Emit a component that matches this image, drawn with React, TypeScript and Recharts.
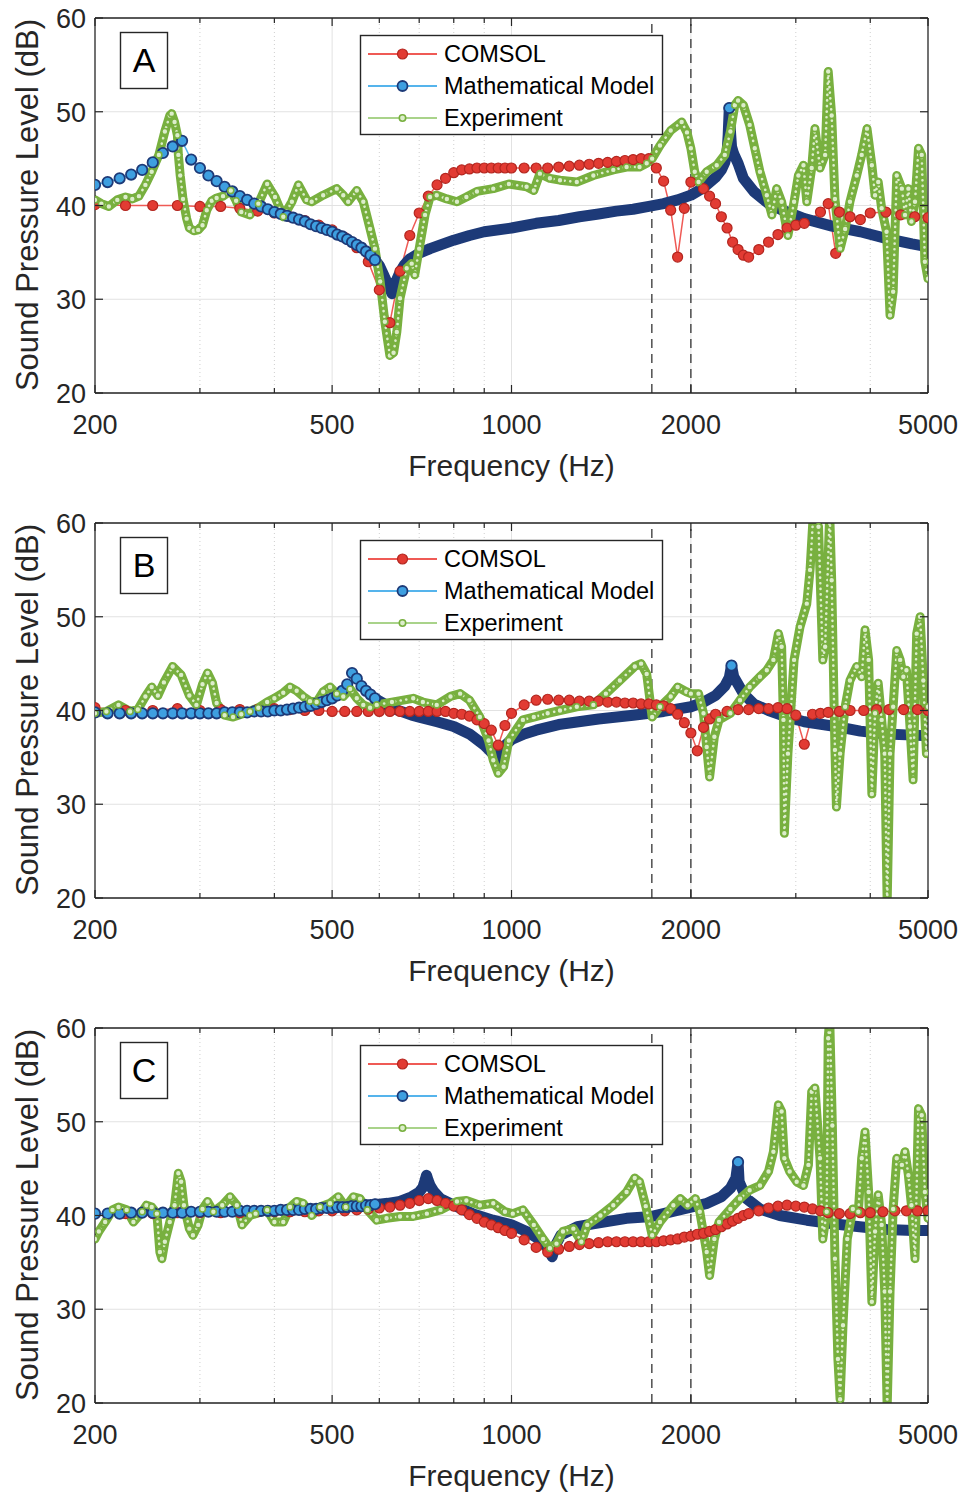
import React from "react";
import { LineChart, Line, XAxis, YAxis, CartesianGrid, ReferenceLine } from "recharts";

type Pt = [number, number];

// ---- data: [frequency Hz, sound pressure level dB] ----
const A_COMSOL: Pt[] = [
  [200, 40.1], [225, 40.0], [250, 40.0], [275, 40.0], [300, 39.9], [325, 39.9], [350, 39.7], [375, 39.4],
  [400, 39.2], [425, 38.8], [450, 38.4], [475, 37.9], [500, 37.4], [525, 36.6], [550, 35.5], [575, 34.0],
  [600, 31.0], [625, 27.5], [650, 33.0], [675, 36.8], [700, 39.2], [725, 41.0], [750, 42.2], [775, 42.9],
  [800, 43.5], [825, 43.8], [850, 43.9], [875, 44.0], [900, 44.0], [925, 44.0], [950, 44.0], [975, 44.0],
  [1000, 44.0], [1050, 44.0], [1100, 44.0], [1150, 44.0], [1200, 44.1], [1250, 44.2], [1300, 44.3],
  [1350, 44.4], [1400, 44.5], [1450, 44.6], [1500, 44.7], [1550, 44.8], [1600, 44.9], [1650, 45.0],
  [1700, 45.0], [1750, 44.0], [1800, 42.6], [1850, 39.5], [1900, 34.5], [1950, 39.7], [2000, 42.5],
  [2100, 41.8], [2150, 41.0], [2200, 40.2], [2250, 38.8], [2300, 37.6], [2350, 36.1], [2400, 35.3],
  [2450, 34.7], [2500, 34.5], [2600, 35.3], [2700, 36.1], [2800, 36.9], [2900, 37.6], [3000, 37.9],
  [3100, 38.1], [3300, 39.3], [3400, 40.2], [3500, 34.9], [3550, 39.3], [3700, 38.8], [3850, 38.5],
  [4000, 39.2], [4250, 39.3], [4500, 39.0], [4750, 38.8], [5000, 38.7],
];

const A_MODEL: Pt[] = [
  [200, 42.2], [210, 42.5], [220, 42.9], [230, 43.3], [240, 43.8], [250, 44.6], [260, 45.6], [270, 46.3],
  [280, 46.9], [290, 44.9], [300, 44.0], [310, 43.2], [320, 42.6], [330, 42.0], [340, 41.5], [350, 41.0],
  [360, 40.6], [370, 40.2], [380, 39.9], [390, 39.6], [400, 39.3], [410, 39.1], [420, 38.9], [430, 38.7],
  [440, 38.5], [450, 38.3], [460, 38.0], [470, 37.8], [480, 37.6], [490, 37.4], [500, 37.2], [510, 36.9],
  [520, 36.7], [530, 36.4], [540, 36.1], [550, 35.8], [560, 35.5], [570, 35.1], [580, 34.7], [590, 34.2],
  [600, 33.6], [610, 32.6], [620, 31.6], [630, 30.6], [640, 31.9], [650, 32.9], [660, 33.6], [675, 34.3],
  [700, 34.9], [730, 35.4], [760, 35.8], [800, 36.3], [850, 36.8], [900, 37.2], [1000, 37.6], [1100, 38.1],
  [1200, 38.4], [1300, 38.8], [1400, 39.1], [1500, 39.4], [1600, 39.6], [1700, 39.9], [1800, 40.2],
  [1900, 40.6], [2000, 41.1], [2100, 41.9], [2200, 43.0], [2250, 43.8], [2280, 44.6], [2300, 45.6],
  [2310, 47.5], [2320, 50.4], [2330, 48.0], [2340, 46.3], [2360, 45.5], [2400, 44.5], [2450, 42.9],
  [2550, 41.5], [2700, 40.2], [2850, 39.5], [3100, 38.6], [3450, 37.8], [3850, 37.2], [4250, 36.5],
  [4700, 35.9], [5000, 35.6],
];

const A_EXPERIMENT: Pt[] = [
  [200, 40.6], [205, 40.2], [211, 39.9], [218, 40.6], [225, 40.9], [231, 40.7], [237, 41.0], [243, 42.2],
  [249, 43.6], [256, 45.4], [262, 47.9], [267, 49.6], [269, 49.8], [272, 48.9], [275, 47.5], [276, 45.4],
  [278, 43.2], [281, 40.7], [285, 38.6], [288, 37.6], [293, 37.3], [298, 37.4], [303, 37.9], [308, 39.5],
  [314, 40.5], [320, 40.8], [328, 41.0], [338, 41.6], [345, 40.5], [352, 39.3], [364, 39.0], [376, 40.2],
  [389, 42.3], [401, 40.9], [414, 38.8], [428, 40.4], [439, 42.2], [453, 40.6], [462, 40.4], [483, 41.1],
  [509, 41.8], [522, 41.1], [532, 40.4], [550, 41.6], [564, 40.4], [579, 37.5], [590, 35.4], [602, 31.9],
  [613, 27.6], [625, 24.0], [634, 24.3], [642, 26.5], [650, 30.1], [667, 33.3], [680, 33.8], [688, 32.6],
  [700, 35.4], [716, 39.0], [730, 40.9], [749, 41.1], [779, 40.7], [810, 40.4], [840, 40.9], [875, 41.5],
  [932, 41.8], [990, 42.3], [1060, 42.0], [1090, 41.6], [1116, 43.4], [1160, 42.9], [1206, 42.7],
  [1287, 42.5], [1372, 43.2], [1482, 43.8], [1560, 44.1], [1640, 44.1], [1686, 44.5], [1722, 45.0],
  [1775, 46.4], [1850, 48.0], [1930, 48.9], [1970, 47.8], [2000, 46.1], [2030, 43.6], [2060, 42.5],
  [2126, 43.6], [2210, 44.3], [2280, 45.4], [2330, 47.9], [2370, 50.7], [2400, 51.2], [2450, 50.7],
  [2510, 48.6], [2560, 46.1], [2612, 43.6], [2682, 41.1], [2735, 39.0], [2786, 41.8], [2840, 40.4],
  [2910, 36.8], [2980, 40.4], [3030, 43.2], [3090, 44.3], [3130, 40.4], [3190, 44.0], [3230, 48.2],
  [3294, 44.0], [3360, 45.4], [3400, 54.3], [3446, 49.6], [3490, 40.7], [3560, 35.4], [3630, 37.5],
  [3698, 40.4], [3796, 43.2], [3870, 45.4], [3950, 48.2], [4025, 44.3], [4075, 41.1], [4125, 42.5],
  [4180, 39.7], [4260, 37.2], [4318, 28.3], [4370, 30.8], [4431, 43.2], [4520, 41.8], [4575, 39.0],
  [4635, 41.8], [4690, 38.3], [4755, 40.4], [4820, 46.1], [4880, 45.4], [4940, 34.0], [5000, 32.2],
];

const B_COMSOL: Pt[] = [
  [200, 40.3], [225, 40.0], [250, 40.0], [275, 40.2], [300, 40.0], [325, 40.1], [350, 40.1], [375, 40.1],
  [400, 40.2], [425, 40.1], [450, 40.0], [475, 40.0], [500, 39.9], [525, 39.9], [550, 39.9], [575, 39.9],
  [600, 39.9], [625, 39.9], [650, 39.9], [675, 39.9], [700, 39.9], [725, 39.9], [750, 39.9], [775, 39.9],
  [800, 39.7], [825, 39.6], [850, 39.4], [875, 39.0], [900, 38.6], [925, 37.9], [950, 36.3], [975, 38.4],
  [1000, 39.7], [1050, 40.6], [1100, 41.1], [1150, 41.2], [1200, 41.1], [1250, 41.1], [1300, 41.0],
  [1350, 41.0], [1400, 41.0], [1450, 40.9], [1500, 40.9], [1550, 40.8], [1600, 40.8], [1650, 40.7],
  [1700, 40.7], [1750, 40.6], [1800, 40.5], [1850, 40.2], [1900, 39.6], [1950, 38.7], [2000, 37.6],
  [2050, 35.7], [2100, 38.2], [2150, 39.1], [2200, 39.6], [2300, 39.9], [2400, 40.1], [2500, 40.1],
  [2600, 40.2], [2700, 40.2], [2800, 40.3], [2900, 40.2], [3000, 39.5], [3100, 36.4], [3200, 39.6],
  [3300, 39.7], [3400, 39.8], [3550, 39.9], [3700, 40.0], [3900, 40.0], [4100, 40.1], [4300, 40.1],
  [4550, 40.1], [4800, 40.1], [5000, 40.0],
];

const B_MODEL: Pt[] = [
  [200, 39.8], [210, 39.7], [220, 39.7], [230, 39.7], [240, 39.7], [250, 39.7], [260, 39.7], [270, 39.7],
  [280, 39.7], [290, 39.7], [300, 39.7], [310, 39.7], [320, 39.7], [330, 39.8], [340, 39.8], [350, 39.8],
  [360, 39.8], [370, 39.9], [380, 39.9], [390, 39.9], [400, 40.0], [410, 40.0], [420, 40.1], [430, 40.2],
  [440, 40.3], [450, 40.4], [460, 40.5], [470, 40.7], [480, 40.9], [490, 41.1], [500, 41.3], [510, 41.6],
  [520, 42.1], [530, 42.8], [540, 44.0], [550, 43.4], [560, 42.6], [570, 42.1], [580, 41.7], [590, 41.3],
  [600, 41.0], [620, 40.5], [640, 40.1], [660, 39.8], [680, 39.5], [700, 39.3], [750, 38.8], [800, 38.3],
  [850, 37.5], [900, 36.3], [930, 35.4], [950, 34.8], [960, 35.5], [980, 36.4], [1000, 36.9], [1050, 37.5],
  [1100, 37.9], [1200, 38.5], [1400, 39.1], [1600, 39.5], [1800, 39.9], [2000, 40.4], [2100, 40.9],
  [2200, 41.6], [2280, 42.6], [2320, 43.5], [2340, 44.8], [2360, 43.6], [2400, 42.8], [2450, 41.8],
  [2550, 40.7], [2700, 40.0], [2900, 39.3], [3100, 38.8], [3500, 38.3], [3850, 37.8], [4250, 37.5],
  [4600, 37.4], [5000, 37.3],
];

const B_EXPERIMENT: Pt[] = [
  [200, 39.7], [209, 39.9], [219, 40.6], [229, 39.9], [236, 40.1], [243, 41.5], [249, 42.5], [255, 41.6],
  [261, 43.0], [270, 44.7], [279, 43.8], [288, 41.6], [296, 40.6], [303, 42.8], [309, 44.0], [315, 42.9],
  [320, 40.8], [330, 39.5], [341, 39.3], [352, 39.6], [364, 39.9], [376, 40.3], [389, 40.9], [400, 41.3],
  [414, 41.9], [425, 42.5], [436, 42.1], [447, 41.5], [459, 41.0], [471, 40.9], [483, 42.0], [496, 42.5],
  [509, 41.8], [522, 41.5], [536, 42.3], [550, 41.3], [564, 40.6], [579, 40.3], [594, 40.6], [630, 40.9],
  [684, 41.3], [710, 40.9], [749, 40.6], [790, 41.5], [820, 41.8], [850, 41.1], [885, 39.3], [915, 36.8],
  [932, 34.7], [950, 33.3], [970, 34.0], [990, 36.8], [1045, 39.0], [1090, 39.3], [1150, 39.7],
  [1206, 40.0], [1287, 40.4], [1372, 40.6], [1440, 41.8], [1520, 43.2], [1610, 44.7], [1650, 45.0],
  [1686, 43.9], [1722, 39.3], [1775, 40.4], [1850, 41.5], [1900, 42.5], [1965, 42.0], [2000, 41.8],
  [2060, 41.8], [2100, 39.7], [2126, 36.1], [2150, 32.9], [2190, 37.2], [2230, 39.0], [2330, 39.7],
  [2418, 41.1], [2510, 42.5], [2612, 43.6], [2682, 44.3], [2751, 45.4], [2805, 48.2], [2840, 46.8],
  [2860, 39.0], [2870, 26.9], [2910, 35.4], [2980, 45.4], [3049, 48.9], [3130, 51.4], [3170, 55.0],
  [3210, 61.0], [3275, 59.6], [3330, 45.4], [3360, 46.8], [3420, 61.0], [3446, 53.9], [3490, 35.8],
  [3510, 29.7], [3560, 35.4], [3630, 40.4], [3698, 43.2], [3796, 44.7], [3870, 43.6], [3920, 48.6],
  [3975, 45.4], [4025, 31.1], [4075, 39.7], [4125, 42.9], [4180, 39.0], [4230, 35.4], [4270, 19.5],
  [4318, 35.4], [4370, 40.4], [4431, 46.4], [4490, 45.4], [4546, 43.6], [4600, 44.3], [4664, 38.3],
  [4720, 32.6], [4786, 48.2], [4850, 50.0], [4910, 43.2], [4970, 35.4], [5000, 40.4],
];

const C_COMSOL: Pt[] = [
  [200, 40.2], [225, 40.2], [250, 40.2], [275, 40.3], [300, 40.3], [325, 40.3], [350, 40.3], [375, 40.4],
  [400, 40.4], [425, 40.4], [450, 40.4], [475, 40.5], [500, 40.5], [525, 40.5], [550, 40.6], [575, 40.7],
  [600, 40.8], [625, 40.9], [650, 41.1], [675, 41.3], [700, 41.6], [725, 41.8], [750, 41.6], [775, 41.3],
  [800, 41.0], [825, 40.6], [850, 40.1], [875, 39.7], [900, 39.3], [925, 39.0], [950, 38.7], [975, 38.4],
  [1000, 38.1], [1050, 37.4], [1100, 36.6], [1150, 36.1], [1200, 36.4], [1250, 36.7], [1300, 36.9],
  [1350, 37.0], [1400, 37.1], [1450, 37.2], [1500, 37.2], [1550, 37.2], [1600, 37.2], [1650, 37.2],
  [1700, 37.2], [1750, 37.2], [1800, 37.3], [1850, 37.4], [1900, 37.5], [1950, 37.7], [2000, 37.8],
  [2050, 38.0], [2100, 38.1], [2150, 38.3], [2200, 38.5], [2250, 38.8], [2300, 39.1], [2350, 39.4],
  [2400, 39.7], [2450, 40.0], [2500, 40.2], [2600, 40.5], [2700, 40.8], [2800, 41.0], [2900, 41.1],
  [3000, 41.0], [3100, 40.9], [3200, 40.7], [3300, 40.5], [3400, 40.3], [3550, 40.2], [3700, 40.2],
  [3850, 40.3], [4000, 40.3], [4200, 40.4], [4400, 40.5], [4600, 40.5], [4800, 40.5], [5000, 40.5],
];

const C_MODEL: Pt[] = [
  [200, 40.2], [210, 40.2], [220, 40.2], [230, 40.3], [240, 40.3], [250, 40.3], [260, 40.3], [270, 40.3],
  [280, 40.3], [290, 40.4], [300, 40.4], [310, 40.4], [320, 40.4], [330, 40.4], [340, 40.4], [350, 40.5],
  [360, 40.5], [370, 40.5], [380, 40.5], [390, 40.5], [400, 40.5], [410, 40.6], [420, 40.6], [430, 40.6],
  [440, 40.6], [450, 40.7], [460, 40.7], [470, 40.7], [480, 40.8], [490, 40.8], [500, 40.8], [510, 40.9],
  [520, 40.9], [530, 40.9], [540, 41.0], [550, 41.0], [560, 41.0], [570, 41.1], [580, 41.1], [590, 41.2],
  [600, 41.2], [620, 41.3], [650, 41.5], [680, 42.0], [700, 42.5], [710, 43.0], [715, 43.6], [720, 44.3],
  [725, 43.7], [730, 43.2], [740, 42.6], [760, 41.8], [800, 41.1], [860, 40.2], [930, 39.5], [1000, 39.0],
  [1060, 38.3], [1110, 37.5], [1150, 36.6], [1170, 35.6], [1185, 36.8], [1210, 37.9], [1290, 38.8],
  [1370, 39.1], [1560, 39.7], [1720, 39.9], [2000, 40.9], [2130, 41.3], [2250, 42.0], [2330, 42.9],
  [2380, 44.0], [2400, 45.7], [2410, 43.6], [2480, 41.8], [2610, 40.7], [2820, 40.0], [3130, 39.5],
  [3490, 39.1], [3840, 38.8], [4260, 38.5], [4720, 38.4], [5000, 38.4],
];

const C_EXPERIMENT: Pt[] = [
  [200, 37.5], [203, 38.3], [208, 39.3], [214, 40.6], [219, 40.9], [226, 40.6], [232, 39.3], [240, 40.4],
  [244, 41.1], [249, 40.9], [254, 40.2], [257, 36.1], [259, 35.4], [262, 37.2], [267, 39.3], [272, 41.1],
  [276, 44.5], [279, 43.6], [282, 41.1], [288, 38.6], [292, 37.9], [298, 39.0], [303, 40.7], [309, 41.5],
  [316, 40.4], [327, 41.1], [337, 42.0], [346, 41.1], [353, 39.0], [364, 40.0], [372, 40.2], [389, 40.6],
  [400, 39.3], [414, 39.3], [425, 40.9], [436, 41.5], [447, 41.3], [462, 40.0], [477, 40.9], [496, 41.3],
  [512, 42.0], [527, 40.9], [543, 42.0], [557, 41.8], [573, 40.6], [594, 39.5], [617, 39.7], [650, 39.9],
  [684, 39.9], [721, 40.2], [760, 40.6], [810, 41.5], [840, 41.6], [885, 41.1], [932, 41.3], [975, 40.4],
  [1005, 40.2], [1045, 40.6], [1090, 39.0], [1130, 37.5], [1160, 36.5], [1190, 37.0], [1220, 38.3],
  [1270, 38.6], [1310, 37.2], [1340, 39.0], [1410, 40.0], [1482, 41.1], [1560, 42.5], [1610, 44.0],
  [1640, 43.6], [1680, 41.0], [1722, 37.9], [1775, 39.3], [1869, 41.1], [1920, 41.8], [1975, 41.1],
  [2035, 41.8], [2070, 40.4], [2126, 36.1], [2150, 33.6], [2190, 37.5], [2230, 39.3], [2330, 40.7],
  [2418, 41.8], [2510, 42.7], [2612, 43.2], [2700, 44.7], [2751, 46.8], [2805, 51.8], [2840, 51.1],
  [2870, 46.1], [2930, 44.7], [3010, 43.6], [3090, 43.2], [3150, 45.4], [3190, 53.2], [3230, 53.6],
  [3294, 46.1], [3330, 37.5], [3380, 40.4], [3400, 58.9], [3420, 61.0], [3455, 49.6], [3490, 35.4],
  [3530, 24.7], [3560, 20.4], [3600, 28.3], [3660, 37.5], [3740, 40.7], [3820, 40.4], [3870, 46.1],
  [3920, 48.9], [3975, 42.5], [4025, 30.8], [4075, 38.3], [4125, 42.2], [4180, 39.0], [4230, 31.9],
  [4270, 19.5], [4318, 31.9], [4370, 40.7], [4431, 46.1], [4520, 45.4], [4575, 46.8], [4635, 44.3],
  [4690, 41.1], [4755, 35.4], [4820, 51.4], [4880, 50.7], [4940, 42.5], [5000, 39.7],
];

const PANEL_LABELS = ["A", "B", "C"];
const X_MAJOR = [200, 500, 1000, 2000, 5000];
const X_MINOR = [300, 400, 600, 700, 800, 900, 3000, 4000];
const Y_TICKS = [20, 30, 40, 50, 60];
const DASHED_FREQS = [1720, 2000];

const PANELS = [
  { label: PANEL_LABELS[0], comsol: A_COMSOL, model: A_MODEL, experiment: A_EXPERIMENT },
  { label: PANEL_LABELS[1], comsol: B_COMSOL, model: B_MODEL, experiment: B_EXPERIMENT },
  { label: PANEL_LABELS[2], comsol: C_COMSOL, model: C_MODEL, experiment: C_EXPERIMENT },
];

// ---- look ----
const FONT = '"Liberation Sans", Arial, Helvetica, sans-serif';
const INK = "#262626";
const NAVY = "#1d3a78";
const RED = "#e23b33";
const RED_LINE = "#ef5a55";
const BLUE = "#3e9fe0";
const BLUE_LINE = "#55b4ec";
const GREEN = "#78b03f";
const GREEN_FILL = "#dcedcb";
const GREEN_LINE = "#a9d38a";

const W = 971;
const H = 505;
const PLOT_H = 375;
const PLOT_W = 833;

const toRows = (pts: Pt[]) => pts.map(([f, v]) => ({ f, v }));

const XTick = (props: any) => {
  const { x, y, payload } = props;
  const v = payload.value;
  const major = X_MAJOR.includes(v);
  const len = major ? 8 : 5;
  return (
    <g>
      <line x1={x} x2={x} y1={y} y2={y - len} stroke={INK} strokeWidth={1.2} />
      <line x1={x} x2={x} y1={y - PLOT_H} y2={y - PLOT_H + len} stroke={INK} strokeWidth={1.2} />
      {major && (
        <text x={x} y={y + 41} textAnchor="middle" fontSize={27} fontFamily={FONT} fill={INK}>
          {v}
        </text>
      )}
    </g>
  );
};

const YTick = (props: any) => {
  const { x, y, payload } = props;
  return (
    <g>
      <line x1={x} x2={x + 8} y1={y} y2={y} stroke={INK} strokeWidth={1.2} />
      <line x1={x + PLOT_W} x2={x + PLOT_W - 8} y1={y} y2={y} stroke={INK} strokeWidth={1.2} />
      <text x={x - 9} y={y + 10} textAnchor="end" fontSize={27} fontFamily={FONT} fill={INK}>
        {payload.value}
      </text>
    </g>
  );
};

// sparse markers (low frequencies, sharp resonance tips) show their light-blue fill;
// in the dense part the markers merge into the navy band drawn underneath
function makeModelDot(rows: { f: number; v: number }[]) {
  return (p: any) => {
    const i = p.index;
    if (p.cx == null || p.cy == null) return <g key={`m-${i}`} />;
    const prev = rows[Math.max(i - 1, 0)].v;
    const next = rows[Math.min(i + 1, rows.length - 1)].v;
    const spike = Math.abs(rows[i].v - (prev + next) / 2) > 1.2;
    if (rows[i].f >= 600 && !spike) return <g key={`m-${i}`} />;
    return <circle key={`m-${i}`} cx={p.cx} cy={p.cy} r={5.2} fill={BLUE} stroke={NAVY} strokeWidth={1.8} />;
  };
}

function Panel({ label, comsol, model, experiment }: any) {
  const c = toRows(comsol);
  const m = toRows(model);
  const band = m.filter((r) => r.f >= 590);
  const e = toRows(experiment);
  const xTicks = [...X_MAJOR, ...X_MINOR].sort((a, b) => a - b);

  return (
    <div style={{ position: "relative", width: W, height: H }}>
      <LineChart width={W} height={H} margin={{ top: 18, right: 43, bottom: 82, left: 35 }}>
        <CartesianGrid vertical={false} stroke="#e2e2e2" />
        {X_MINOR.map((f) => (
          <ReferenceLine key={`mn${f}`} x={f} stroke="#cfcfcf" strokeDasharray="1 3" />
        ))}
        {[500, 1000, 2000].map((f) => (
          <ReferenceLine key={`mj${f}`} x={f} stroke="#e2e2e2" />
        ))}
        <XAxis
          dataKey="f"
          type="number"
          scale="log"
          domain={[200, 5000]}
          allowDataOverflow
          ticks={xTicks}
          interval={0}
          tick={(p: any) => <XTick {...p} />}
          tickLine={false}
          tickSize={0}
          tickMargin={0}
          axisLine={{ stroke: INK, strokeWidth: 1.3 }}
          height={30}
        />
        <YAxis
          type="number"
          domain={[20, 60]}
          allowDataOverflow
          ticks={Y_TICKS}
          interval={0}
          tick={(p: any) => <YTick {...p} />}
          tickLine={false}
          tickSize={0}
          tickMargin={0}
          axisLine={{ stroke: INK, strokeWidth: 1.3 }}
          width={60}
        />
        {DASHED_FREQS.map((f) => (
          <ReferenceLine key={`d${f}`} x={f} stroke="#333" strokeDasharray="9 6" strokeWidth={1.3} />
        ))}
        <Line
          data={c}
          dataKey="v"
          stroke={RED_LINE}
          strokeWidth={1.5}
          dot={{ r: 5, fill: RED, stroke: "#b3261f", strokeWidth: 1.2 }}
          isAnimationActive={false}
        />
        <Line data={m} dataKey="v" stroke={BLUE_LINE} strokeWidth={1.5} dot={false} isAnimationActive={false} />
        <Line
          data={band}
          dataKey="v"
          stroke={NAVY}
          strokeWidth={11}
          strokeLinejoin="round"
          strokeLinecap="round"
          dot={false}
          isAnimationActive={false}
        />
        <Line data={m} dataKey="v" stroke="none" dot={makeModelDot(m)} isAnimationActive={false} />
        {/* experiment: dense hollow markers drawn as a thick band with light ring centres */}
        <Line
          data={e}
          dataKey="v"
          stroke={GREEN}
          strokeWidth={9}
          strokeLinejoin="round"
          strokeLinecap="round"
          dot={{ r: 3, fill: GREEN_FILL, stroke: GREEN, strokeWidth: 1.6 }}
          isAnimationActive={false}
        />
        <Line
          data={e}
          dataKey="v"
          stroke={GREEN_FILL}
          strokeWidth={2.6}
          strokeDasharray="0.1 5.5"
          strokeLinecap="round"
          strokeLinejoin="round"
          dot={false}
          isAnimationActive={false}
        />
        <ReferenceLine y={60} stroke={INK} strokeWidth={1.3} />
        <ReferenceLine x={5000} stroke={INK} strokeWidth={1.3} />
      </LineChart>

      <svg width={W} height={H} style={{ position: "absolute", left: 0, top: 0, pointerEvents: "none" }}>
        {/* panel label */}
        <rect x={120.5} y={32.5} width={47} height={56} fill="#fff" stroke={INK} strokeWidth={1.4} />
        <text x={144} y={72} textAnchor="middle" fontSize={34} fontFamily={FONT} fill="#000">
          {label}
        </text>

        {/* legend */}
        <rect x={360.5} y={35.5} width={302} height={99} fill="#fff" stroke={INK} strokeWidth={1.4} />
        <line x1={368} x2={437} y1={54} y2={54} stroke={RED_LINE} strokeWidth={1.8} />
        <circle cx={402.5} cy={54} r={5} fill={RED} stroke="#b3261f" strokeWidth={1.2} />
        <text x={444} y={62} fontSize={23.5} fontFamily={FONT} fill="#000">COMSOL</text>
        <line x1={368} x2={437} y1={86} y2={86} stroke={BLUE_LINE} strokeWidth={2} />
        <circle cx={402.5} cy={86} r={5} fill={BLUE} stroke={NAVY} strokeWidth={1.8} />
        <text x={444} y={94} fontSize={23.5} fontFamily={FONT} fill="#000">Mathematical Model</text>
        <line x1={368} x2={437} y1={118} y2={118} stroke={GREEN_LINE} strokeWidth={2} />
        <circle cx={402.5} cy={118} r={3.2} fill={GREEN_FILL} stroke={GREEN} strokeWidth={1.6} />
        <text x={444} y={126} fontSize={23.5} fontFamily={FONT} fill="#000">Experiment</text>

        {/* axis titles */}
        <text x={511.5} y={476} textAnchor="middle" fontSize={30} fontFamily={FONT} fill={INK}>
          Frequency (Hz)
        </text>
        <text
          transform="translate(38,205) rotate(-90)"
          textAnchor="middle"
          fontSize={31}
          fontFamily={FONT}
          fill={INK}
        >
          Sound Pressure Level (dB)
        </text>
      </svg>
    </div>
  );
}

export default function App() {
  return (
    <div
      style={{
        position: "absolute",
        left: 0,
        top: 0,
        width: W,
        height: 1493,
        overflow: "hidden",
        background: "#fff",
        fontFamily: FONT,
      }}
    >
      {PANELS.map((p) => (
        <Panel key={p.label} {...p} />
      ))}
    </div>
  );
}
